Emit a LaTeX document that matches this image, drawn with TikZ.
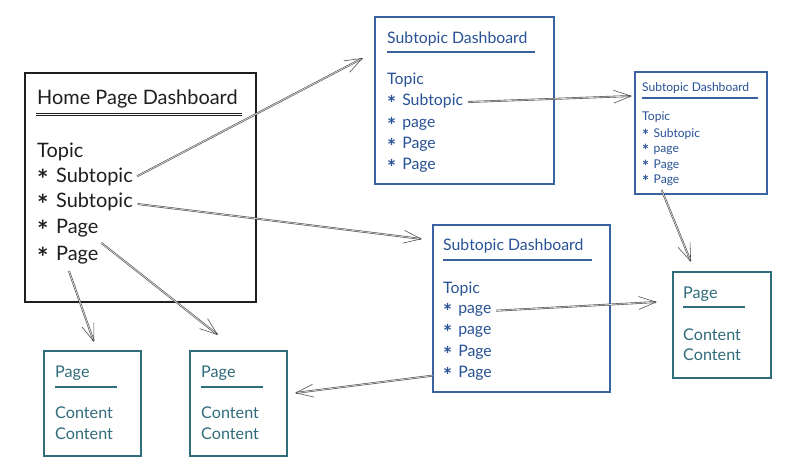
\documentclass[tikz,border=0pt]{standalone}
\usepackage{fontspec}
\setmainfont{Lato}
\usetikzlibrary{arrows.meta}

\definecolor{ink}{RGB}{30,30,30}
\definecolor{inkblue}{RGB}{40,82,150}
\definecolor{frameblue}{RGB}{58,98,160}
\definecolor{inkteal}{RGB}{48,108,122}
\definecolor{lead}{RGB}{80,80,80}
\newcommand\bul{\makebox[0.95em][l]{\raisebox{-.75ex}{\scalebox{1.35}{\bfseries *}}}}

\begin{document}
\begin{tikzpicture}
  [x=0.03cm,y=-0.03cm,
   every node/.style={anchor=base west,inner sep=0pt},
   hometxt/.style={text=ink,font=\fontsize{17}{19}\selectfont},
   subtxt/.style={text=inkblue,font=\fontsize{13.5}{15}\selectfont},
   smalltxt/.style={text=inkblue,font=\fontsize{10.3}{12}\selectfont},
   pagetxt/.style={text=inkteal,font=\fontsize{13.8}{15}\selectfont},
   homeframe/.style={draw=ink,line width=1.3pt},
   subframe/.style={draw=frameblue,line width=1.1pt},
   pageframe/.style={draw=inkteal,line width=1.1pt},
   arr/.style={draw=lead,line width=.5pt,double=white!80!lead,double distance=.6pt,
     -{Straight Barb[length=15pt,width=11pt]}}]

  \fill[white] (0,0) rectangle (800,476);
  \useasboundingbox (0,0) rectangle (800,476);

  % home page dashboard
  \draw[homeframe] (25,73) rectangle (256,302);
  \draw[draw=ink,line width=.8pt] (36,113) -- (242,113) (36,115.5) -- (242,115.5);
  \node [hometxt] (h0) at (37,104) {Home Page Dashboard};
  \node [hometxt] (h1) at (37,157) {Topic};
  \node [hometxt] (h2) at (37,182) {\bul Subtopic};
  \node [hometxt] (h3) at (37,207) {\bul Subtopic};
  \node [hometxt] (h4) at (37,233) {\bul Page};
  \node [hometxt] (h5) at (37,260) {\bul Page};

  % subtopic dashboard, top
  \draw[subframe] (375,17) rectangle (554,184);
  \draw[draw=frameblue,line width=1.4pt] (387,52) -- (535,52);
  \node [subtxt] (s1t) at (387,43) {Subtopic Dashboard};
  \node [subtxt] (s1a) at (387,84) {Topic};
  \node [subtxt] (s1s) at (387,105) {\bul Subtopic};
  \node [subtxt] (s1p1) at (387,127) {\bul page};
  \node [subtxt] (s1p2) at (387,148) {\bul Page};
  \node [subtxt] (s1p3) at (387,169) {\bul Page};

  % subtopic dashboard, small
  \draw[subframe] (635,72) rectangle (767,194);
  \draw[draw=frameblue,line width=1.2pt] (642,98) -- (758,98);
  \node [smalltxt] (s2t) at (642,91) {Subtopic Dashboard};
  \node [smalltxt] (s2a) at (642,120) {Topic};
  \node [smalltxt] (s2s) at (642,137) {\bul Subtopic};
  \node [smalltxt] (s2p1) at (642,152) {\bul page};
  \node [smalltxt] (s2p2) at (642,168) {\bul Page};
  \node [smalltxt] (s2p3) at (642,183) {\bul Page};

  % subtopic dashboard, middle
  \draw[subframe] (433,225) rectangle (610,392);
  \draw[draw=frameblue,line width=1.4pt] (443,260) -- (592,260);
  \node [subtxt] (s3t) at (443,250) {Subtopic Dashboard};
  \node [subtxt] (s3a) at (443,293) {Topic};
  \node [subtxt] (s3p1) at (443,313) {\bul page};
  \node [subtxt] (s3p2) at (443,334) {\bul page};
  \node [subtxt] (s3p3) at (443,356) {\bul Page};
  \node [subtxt] (s3p4) at (443,377) {\bul Page};

  % pages
  \draw[pageframe] (44,351) rectangle (141,456);
  \draw[draw=inkteal,line width=1.4pt] (55,387) -- (117,387);
  \node [pagetxt] (p1t) at (55,377) {Page};
  \node [pagetxt] (p1a) at (55,418) {Content};
  \node [pagetxt] (p1b) at (55,439) {Content};

  \draw[pageframe] (190,351) rectangle (287,456);
  \draw[draw=inkteal,line width=1.4pt] (201,387) -- (263,387);
  \node [pagetxt] (p2t) at (201,377) {Page};
  \node [pagetxt] (p2a) at (201,418) {Content};
  \node [pagetxt] (p2b) at (201,439) {Content};

  \draw[pageframe] (673,272) rectangle (771,378);
  \draw[draw=inkteal,line width=1.4pt] (683,307) -- (745,307);
  \node [pagetxt] (p3t) at (683,298) {Page};
  \node [pagetxt] (p3a) at (683,340) {Content};
  \node [pagetxt] (p3b) at (683,360) {Content};

  % arrow ends
  \coordinate (e1) at (363,58);
  \coordinate (e2) at (422,239);
  \coordinate (e3) at (218,335);
  \coordinate (e4) at (94,342);
  \coordinate (e5) at (632,96);
  \coordinate (e6) at (691,262);
  \coordinate (e7) at (657,302);
  \coordinate (e8) at (295,393);

  \foreach \from/\to/\gap in {h2.east/e1/4pt,h3.east/e2/4pt,h4.south east/e3/3pt,h5.south/e4/3pt,
    s1s.east/e5/4pt,s2p3.south/e6/2pt,s3p1.east/e7/4pt,s3p4.west/e8/9pt}
    \draw[arr,shorten <=\gap] (\from) -- (\to);

\end{tikzpicture}
\end{document}
